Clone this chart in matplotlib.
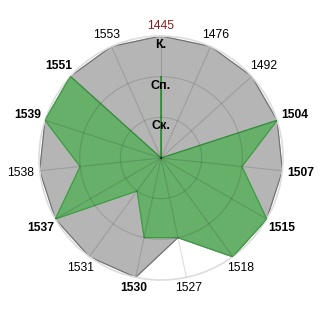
import numpy as np
import matplotlib.pyplot as plt

plt.rcParams['font.family'] = ['Liberation Sans', 'DejaVu Sans']

# categories clockwise from the top
years = ['1445', '1476', '1492', '1504', '1507', '1515', '1518', '1527',
         '1530', '1531', '1537', '1538', '1539', '1551', '1553']
bold_years = ['1551', '1539', '1504', '1507', '1515', '1537', '1530']
red_years = ['1445']
levels = [1, 2, 3]
level_labels = ['Ск.', 'Сп.', 'К.']

gray_vals = [3, 3, 3, 3, 3, 3, 3, 2, 3, 3, 3, 3, 3, 3, 3]
green_vals = [2, 0, 0, 3, 2, 3, 3, 2, 2, 1, 3, 2, 3, 3, 0]

n = len(years)
ang = np.linspace(0, 2 * np.pi, n, endpoint=False)
ang_c = np.append(ang, ang[0])

fig = plt.figure(figsize=(3.2, 3.2), dpi=100)
ax = fig.add_axes([0.122, 0.125, 0.7625, 0.7625], projection='polar')
ax.set_theta_zero_location('N')
ax.set_theta_direction(-1)
ax.set_ylim(0, 3)

g = np.append(gray_vals, gray_vals[0])
ax.fill(ang_c, g, color='#b5b5b5', zorder=1)
ax.plot(ang_c, g, color='#707070', lw=0.8, zorder=2)

v = np.append(green_vals, green_vals[0])
ax.fill(ang_c, v, color='#66b06a', zorder=3)
ax.plot(ang_c, v, color='#3f9a45', lw=0.8, zorder=4)

# grid drawn on top of the fills
ax.grid(False)
for a in ang:
    ax.plot([a, a], [0, 3], color='black', alpha=0.13, lw=0.8, zorder=5)
t = np.linspace(0, 2 * np.pi, 300)
for lv in levels[:-1]:
    ax.plot(t, np.full_like(t, lv), color='black', alpha=0.13, lw=0.8, zorder=5)
ax.spines['polar'].set_color('#dddddd')
ax.spines['polar'].set_linewidth(1.2)

ax.set_yticks([])
ax.set_xticks(ang)
ax.set_xticklabels([])
unit = 122 / 3.0  # pixels per value unit
for a, y in zip(ang, years):
    if y in red_years:
        kw = dict(color='#8b1a1a', fontsize=8.7)
    elif y in bold_years:
        kw = dict(color='black', fontsize=8.7, fontweight='bold')
    else:
        kw = dict(color='black', fontsize=8.7)
    off = 5 + np.hypot(14 * np.sin(a), 5 * np.cos(a))
    ax.text(a, 3 + off / unit, y, ha='center', va='center', **kw)

for lv, lab in zip(levels, level_labels):
    ax.text(0, lv - 0.22, lab, ha='center', va='center', fontsize=9,
            fontweight='bold', color='black', zorder=6)

fig.savefig('out.png', dpi=100)
